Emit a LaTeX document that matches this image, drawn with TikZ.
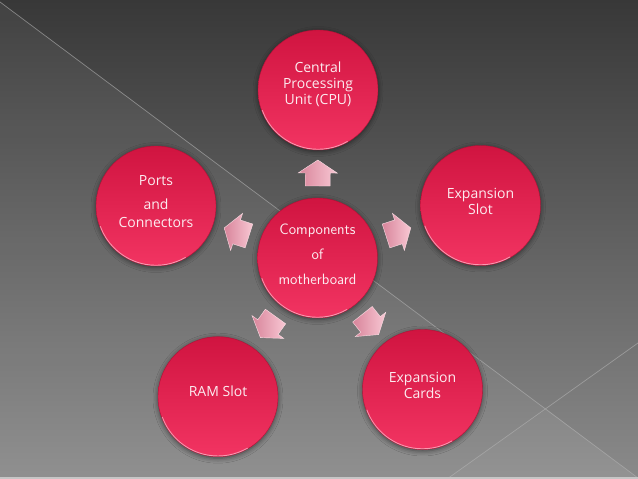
\documentclass[tikz,border=0pt]{standalone}
\usepackage{fontspec}
\setmainfont{Open Sans}
\usetikzlibrary{calc,shadows.blur}
\definecolor{bgtop}{RGB}{56,56,56}
\definecolor{bgbot}{RGB}{138,138,138}
\definecolor{crimA}{RGB}{208,20,64}
\definecolor{crimB}{RGB}{242,52,98}
\definecolor{pinkA}{RGB}{216,132,154}
\definecolor{pinkB}{RGB}{248,200,212}
\definecolor{txt}{RGB}{252,236,240}
\definecolor{rulec}{RGB}{180,180,180}
\begin{document}
\begin{tikzpicture}[x=1pt,y=1pt,
  bubble/.style={circle, minimum size=120pt, inner sep=0pt, top color=crimA, bottom color=crimB,
    draw=crimA!85!black, line width=0.4pt,
    blur shadow={shadow xshift=0pt, shadow yshift=-1.5pt, shadow blur radius=5pt, shadow opacity=55}},
  lbl/.style={text=txt, align=center, font=\fontsize{14}{16}\selectfont},
  ctrlbl/.style={text=txt, align=center, font=\sffamily\addfontfeatures{LetterSpace=5}\fontsize{15}{25}\selectfont},
  blockarrow/.style={left color=pinkA, right color=pinkB, draw=pinkB!60!white, line width=0.4pt}]
\useasboundingbox (0,0) rectangle (638,479);
% background
\shade[top color=bgtop, bottom color=bgbot] (0,0) rectangle (638,479);
\fill[white, opacity=0.05] (0,477) -- (638,1) -- (638,0) -- (0,0) -- cycle;
\fill[white, opacity=0.03] (447,0) -- (547,70) -- (638,0) -- cycle;
\draw[rulec, opacity=0.6, line width=0.7pt] (0,477) -- (638,1);
\draw[rulec, opacity=0.6, line width=0.7pt] (638,136) -- (447,0);
\fill[gray!45!white] (0,0) rectangle (638,1.5);
% circles
\node[bubble] (ctr)   at (317.5,221) {};
\node[bubble] (cpu)   at (318,389) {};
\node[bubble] (slot)  at (480.5,273.5) {};
\node[bubble] (ports) at (156,273) {};
\node[bubble] (cards) at (422.5,89.5) {};
\node[bubble] (ram)   at (218,82.3) {};
\foreach \n in {ctr,cpu,slot,ports,cards,ram}{
  \draw[white, opacity=0.5, line width=0.9pt] ([shift={(200:59.3)}]\n.center) arc[start angle=200, end angle=300, radius=59.3];
}
% block arrows
\foreach \t in {cpu,slot,ports,cards,ram}{
  \pgfmathanglebetweenpoints{\pgfpointanchor{ctr}{center}}{\pgfpointanchor{\t}{center}}
  \edef\myang{\pgfmathresult}
  \begin{scope}[shift={(ctr.center)}, rotate=\myang]
    \path[blockarrow] (72,-12.5) -- (85,-12.5) -- (85,-19.5) -- (98,0) -- (85,19.5) -- (85,12.5) -- (72,12.5) -- cycle;
  \end{scope}
}
% labels
\node[lbl, yshift=5.5pt] at (cpu) {Central\\Processing\\Unit (CPU)};
\node[lbl, yshift=4pt] at (slot) {Expansion\\Slot};
\node[lbl, yshift=4.5pt] at (ports) {Ports\\[8pt]and\\[2pt]Connectors};
\node[lbl, yshift=4.5pt] at (cards) {Expansion\\Cards};
\node[lbl, yshift=5pt] at (ram) {RAM Slot};
\node[ctrlbl, yshift=3.5pt] at (ctr) {Components\\of\\motherboard};
\end{tikzpicture}
\end{document}
